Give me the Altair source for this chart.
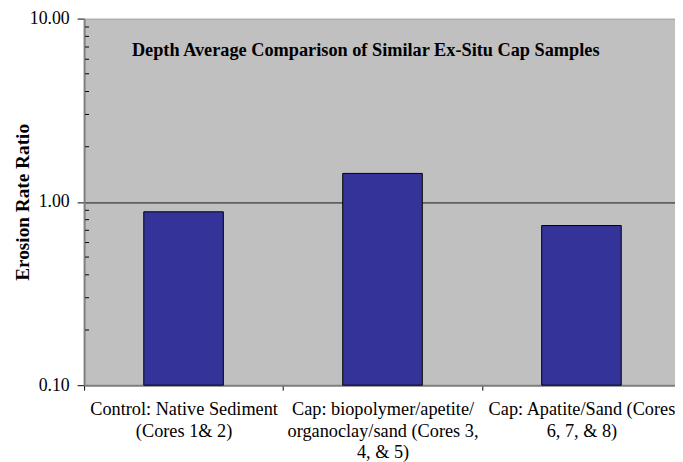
import altair as alt
import pandas as pd

categories = [
    "Control: Native Sediment|(Cores 1& 2)",
    "Cap: biopolymer/apetite/|organoclay/sand (Cores 3,|4, & 5)",
    "Cap: Apatite/Sand (Cores|6, 7, & 8)",
]
ratios = [0.883, 1.43, 0.743]
major_ticks = [0.1, 1, 10]
minor_ticks = [0.2, 0.3, 0.4, 0.5, 0.6, 0.7, 0.8, 0.9, 2, 3, 4, 5, 6, 7, 8, 9]
title_text = ["Depth Average Comparison of Similar Ex-Situ Cap Samples"]

SERIF = "Liberation Serif"

df = pd.DataFrame({"cat": categories, "ratio": ratios})
minor_df = pd.DataFrame({"v": minor_ticks})
title_df = pd.DataFrame({"t": title_text})

yscale = alt.Scale(type="log", domain=[0.1, 10], nice=False)

bars = alt.Chart(df).mark_bar(
    color="#333399", stroke="#000000", strokeWidth=1, width=alt.RelativeBandSize(0.4)
).encode(
    x=alt.X(
        "cat:N",
        sort=categories,
        scale=alt.Scale(paddingInner=0, paddingOuter=0, range=[0, 604]),
        axis=alt.Axis(
            title=None,
            labelAngle=0,
            labelExpr="split(datum.label, '|')",
            labelFont=SERIF,
            labelFontSize=18.5,
            labelColor="#000000",
            labelLineHeight=21.5,
            labelPadding=10,
            labelLimit=400,
            tickBand="extent",
            tickSize=5,
            tickColor="#000000",
            domainColor="#7f7f7f",
            domainWidth=2,
        ),
    ),
    y=alt.Y(
        "ratio:Q",
        scale=yscale,
        axis=alt.Axis(
            title="Erosion Rate Ratio",
            titleFont=SERIF,
            titleFontSize=19.5,
            titleFontWeight="bold",
            titleColor="#000000",
            titlePadding=-3,
            values=major_ticks,
            format=".2f",
            labelFont=SERIF,
            labelFontSize=18,
            labelColor="#000000",
            labelPadding=8,
            tickSize=7,
            tickColor="#000000",
            domainColor="#7f7f7f",
            domainWidth=2,
            grid=True,
            gridColor="#5f5f5f",
            gridWidth=2,
            gridOpacity={"condition": {"test": "abs(datum.value - 1) < 1e-6", "value": 1}, "value": 0},
        ),
    ),
    y2=alt.datum(major_ticks[0]),
)

minor = alt.Chart(minor_df).mark_rule(color="#000000", strokeWidth=1).encode(
    y=alt.Y("v:Q", scale=yscale),
    x=alt.value(1),
    x2=alt.value(5),
)

title = alt.Chart(title_df).mark_text(
    font=SERIF, fontSize=18.5, fontWeight="bold", color="#000000", align="center", baseline="middle"
).encode(text="t:N", x=alt.value(285), y=alt.value(32))

chart = alt.layer(bars, minor, title).properties(
    width=598,
    height=371,
    autosize=alt.AutoSizeParams(type="none"),
    padding={"left": 77, "top": 8, "right": 0, "bottom": 75},
    background="#ffffff",
).configure_view(fill="#c0c0c0", stroke="#a0a0a0", strokeWidth=1)

chart.save("out.html", embed_options={"renderer": "svg", "actions": False})
